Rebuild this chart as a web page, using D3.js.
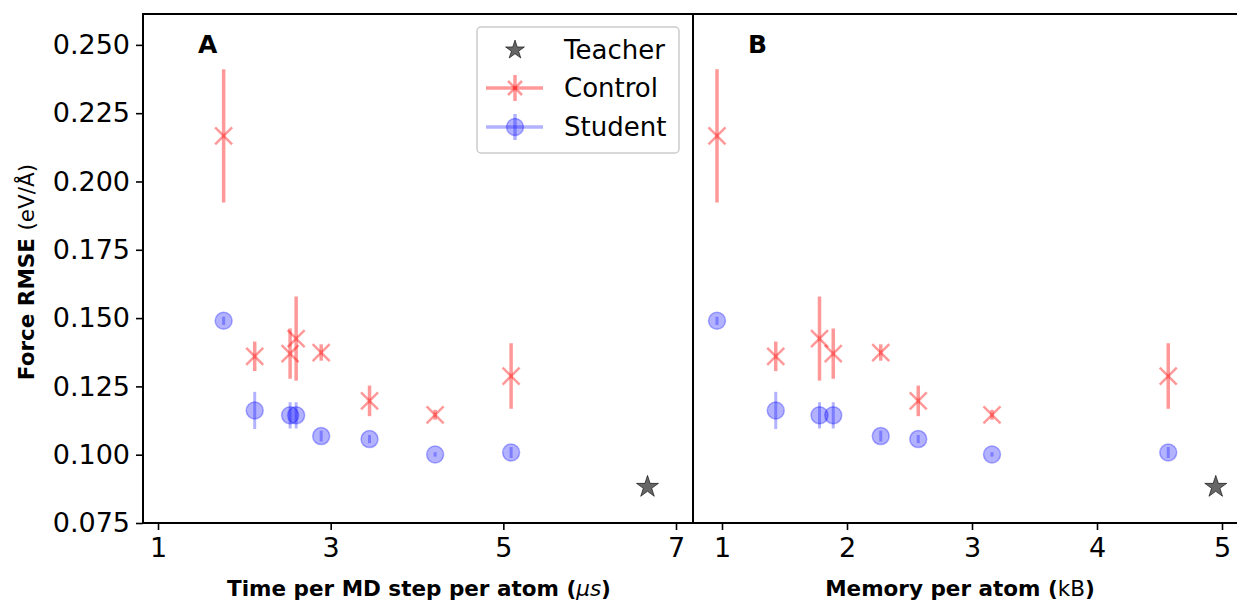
<!DOCTYPE html>
<html>
<head>
<meta charset="utf-8">
<script src="https://cdn.jsdelivr.net/npm/d3@7"></script>
<style>
  body { margin: 0; background: #fff; }
  svg { display: block; font-family: "DejaVu Sans", sans-serif; }
</style>
</head>
<body>
<div id="chart"></div>
<script>
const WIDTH = 1237;
const HEIGHT = 602;

// datos (8 modelos)
const timeUs = [1.76, 2.12, 2.53, 2.60, 2.89, 3.45, 4.21, 5.09];
const memKB = [0.96, 1.43, 1.89, 1.78, 2.27, 2.57, 3.16, 4.57];
const controlRmse = [0.2167, 0.1360, 0.1370, 0.1425, 0.1374, 0.1197, 0.1146, 0.1288];
const controlErr = [0.0244, 0.0054, 0.0092, 0.0154, 0.0030, 0.0056, 0.0018, 0.0120];
const studentRmse = [0.1490, 0.1162, 0.1144, 0.1144, 0.1068, 0.1057, 0.1001, 0.1008];
const studentErr = [0.0015, 0.0068, 0.0048, 0.0048, 0.0020, 0.0015, 0.0008, 0.0020];
const teacherTime = 6.67;
const teacherMem = 4.95;
const teacherRmse = 0.0882;

const yTicks = [0.075, 0.100, 0.125, 0.150, 0.175, 0.200, 0.225, 0.250];
const xTicksA = [1, 3, 5, 7];
const xTicksB = [1, 2, 3, 4, 5];
const legendLabels = ["Teacher", "Control", "Student"];

const TOP = 14, BOTTOM = 523;
const panelA = { left: 143, right: 693, dom: [0.826, 7.197] };
const panelB = { left: 693, right: 1245, dom: [0.768, 5.184] };

const RED = "rgba(255,0,0,0.4)";
const BLUE = "rgba(0,0,255,0.3)";

const svg = d3.select("#chart").append("svg")
    .attr("width", WIDTH).attr("height", HEIGHT);

const y = d3.scaleLinear().domain([0.075, 0.2613]).range([BOTTOM, TOP]);

function drawPanel(p, xs, ticks, letter, showY) {
    const x = d3.scaleLinear().domain(p.dom).range([p.left, p.right]);
    const g = svg.append("g");

    // x axis
    const ax = g.append("g").attr("transform", `translate(0,${BOTTOM})`)
        .call(d3.axisBottom(x).tickValues(ticks).tickSize(7).tickPadding(8).tickFormat(d3.format("d")));
    ax.select(".domain").remove();
    ax.selectAll("line").attr("stroke", "#000").attr("stroke-width", 1.6);
    ax.selectAll("text").attr("font-size", 27).attr("font-family", "DejaVu Sans").attr("fill", "#000");

    if (showY) {
        const ay = g.append("g").attr("transform", `translate(${p.left},0)`)
            .call(d3.axisLeft(y).tickValues(yTicks).tickSize(7).tickPadding(6).tickFormat(d3.format(".3f")));
        ay.select(".domain").remove();
        ay.selectAll("line").attr("stroke", "#000").attr("stroke-width", 1.6);
        ay.selectAll("text").attr("font-size", 27).attr("font-family", "DejaVu Sans").attr("fill", "#000");
    }

    const rows = timeUs.map((t, i) => ({ x: xs[i], c: controlRmse[i], ce: controlErr[i], s: studentRmse[i], se: studentErr[i] }));

    // student: barras de error + circulos
    g.selectAll(".serr").data(rows).join("line")
        .attr("x1", d => x(d.x)).attr("x2", d => x(d.x))
        .attr("y1", d => y(d.s - d.se)).attr("y2", d => y(d.s + d.se))
        .attr("stroke", BLUE).attr("stroke-width", 3);
    g.selectAll(".sdot").data(rows).join("circle")
        .attr("cx", d => x(d.x)).attr("cy", d => y(d.s)).attr("r", 8.5)
        .attr("fill", BLUE).attr("stroke", BLUE).attr("stroke-width", 1.5);

    // control: barras de error + cruces
    g.selectAll(".cerr").data(rows).join("line")
        .attr("x1", d => x(d.x)).attr("x2", d => x(d.x))
        .attr("y1", d => y(d.c - d.ce)).attr("y2", d => y(d.c + d.ce))
        .attr("stroke", RED).attr("stroke-width", 3.5);
    g.selectAll(".cx").data(rows).join("path")
        .attr("d", d => {
            const cx = x(d.x), cy = y(d.c), r = 8.5;
            return `M${cx - r},${cy - r}L${cx + r},${cy + r}M${cx - r},${cy + r}L${cx + r},${cy - r}`;
        })
        .attr("stroke", RED).attr("stroke-width", 2.5).attr("fill", "none");

    // teacher
    g.append("path")
        .attr("d", d3.symbol(d3.symbolStar, 150)())
        .attr("transform", `translate(${x(showY ? teacherTime : teacherMem)},${y(teacherRmse)})`)
        .attr("fill", "rgba(0,0,0,0.6)").attr("stroke", "rgba(0,0,0,0.6)").attr("stroke-width", 1);

    // marco
    g.append("rect").attr("x", p.left).attr("y", TOP)
        .attr("width", p.right - p.left).attr("height", BOTTOM - TOP)
        .attr("fill", "none").attr("stroke", "#000").attr("stroke-width", 2);

    g.append("text").attr("x", p.left + 55).attr("y", 53)
        .attr("font-size", 25).attr("font-weight", "bold").text(letter);
    return x;
}

drawPanel(panelA, timeUs, xTicksA, "A", true);
drawPanel(panelB, memKB, xTicksB, "B", false);

// etiquetas de ejes
const xl1 = svg.append("text").attr("x", 419).attr("y", 596)
    .attr("text-anchor", "middle").attr("font-size", 21.5).attr("font-weight", "bold");
xl1.append("tspan").text("Time per MD step per atom (");
xl1.append("tspan").attr("font-weight", "normal").attr("font-style", "italic").text("μs");
xl1.append("tspan").text(")");

const xl2 = svg.append("text").attr("x", 960).attr("y", 596)
    .attr("text-anchor", "middle").attr("font-size", 21.5).attr("font-weight", "bold");
xl2.append("tspan").text("Memory per atom (");
xl2.append("tspan").attr("font-weight", "normal").text("kB");
xl2.append("tspan").text(")");

const yl = svg.append("text").attr("transform", "translate(34,272) rotate(-90)")
    .attr("text-anchor", "middle").attr("font-size", 21.5).attr("font-weight", "bold");
yl.append("tspan").text("Force RMSE ");
yl.append("tspan").attr("font-weight", "normal").text("(eV/Å)");

// leyenda
const lg = svg.append("g");
lg.append("rect").attr("x", 477).attr("y", 27).attr("width", 202).attr("height", 126)
    .attr("rx", 4).attr("fill", "rgba(255,255,255,0.8)").attr("stroke", "#ccc").attr("stroke-width", 1.5);
const rowY = [50, 88, 127];
const hx = 515;
lg.selectAll(".lt").data(legendLabels).join("text")
    .attr("x", 564).attr("y", (d, i) => rowY[i]).attr("dy", "0.35em")
    .attr("font-size", 26).text(d => d);
lg.append("path").attr("d", d3.symbol(d3.symbolStar, 110)())
    .attr("transform", `translate(${hx},${rowY[0]})`)
    .attr("fill", "rgba(0,0,0,0.6)").attr("stroke", "rgba(0,0,0,0.6)");
// control
lg.append("line").attr("x1", 486).attr("x2", 543).attr("y1", rowY[1]).attr("y2", rowY[1])
    .attr("stroke", RED).attr("stroke-width", 3.5);
lg.append("line").attr("x1", hx).attr("x2", hx).attr("y1", rowY[1] - 13).attr("y2", rowY[1] + 13)
    .attr("stroke", RED).attr("stroke-width", 3.5);
lg.append("path")
    .attr("d", `M${hx - 7},${rowY[1] - 7}L${hx + 7},${rowY[1] + 7}M${hx - 7},${rowY[1] + 7}L${hx + 7},${rowY[1] - 7}`)
    .attr("stroke", RED).attr("stroke-width", 2.5);
// student
lg.append("line").attr("x1", 486).attr("x2", 543).attr("y1", rowY[2]).attr("y2", rowY[2])
    .attr("stroke", BLUE).attr("stroke-width", 3.5);
lg.append("line").attr("x1", hx).attr("x2", hx).attr("y1", rowY[2] - 13).attr("y2", rowY[2] + 13)
    .attr("stroke", BLUE).attr("stroke-width", 3.5);
lg.append("circle").attr("cx", hx).attr("cy", rowY[2]).attr("r", 8.5)
    .attr("fill", BLUE).attr("stroke", BLUE).attr("stroke-width", 1.5);
</script>
</body>
</html>
